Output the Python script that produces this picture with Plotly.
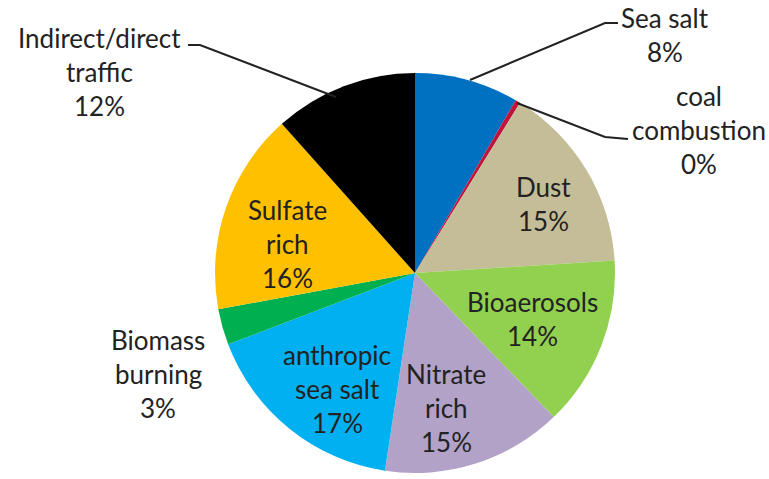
import plotly.graph_objects as go

# ---- data ----
categories = ["Sea salt", "coal combustion", "Dust", "Bioaerosols", "Nitrate rich",
              "anthropic sea salt", "Biomass burning", "Sulfate rich", "Indirect/direct traffic"]
label_lines = [["Sea salt"], ["coal", "combustion"], ["Dust"], ["Bioaerosols"], ["Nitrate", "rich"],
               ["anthropic", "sea salt"], ["Biomass", "burning"], ["Sulfate", "rich"],
               ["Indirect/direct", "traffic"]]
values = [8.4, 0.4, 15.2, 13.8, 14.6, 16.8, 2.9, 16.3, 11.6]
colors = ["#0070C0", "#C0143C", "#C4BD97", "#92D050", "#B3A2C7",
          "#00B0F0", "#00B050", "#FFC000", "#000000"]

W, H = 769, 479
cx, cy, r = 415, 273, 200

# label placement (pixel centre x, first line y) - style/position only
label_pos = [(665, 18), (699, 96), (543, 187), (532, 302), (446, 374),
             (337, 355), (158, 340), (287, 210), (99, 38)]
line_gap = 34
leaders = {
    0: [(470, 80), (605, 23), (618, 23)],
    1: [(517, 103), (605, 137), (628, 139)],
    8: [(188, 45), (200, 45), (336, 97)],
}

def px(x):
    return x / W

def py(y):
    return 1 - y / H

fig = go.Figure(go.Pie(
    labels=categories, values=values, sort=False, direction="clockwise", rotation=0,
    marker=dict(colors=colors, line=dict(width=0)),
    textinfo="none", hoverinfo="label+percent",
    domain=dict(x=[px(cx - r), px(cx + r)], y=[py(cy + r), py(cy - r)]),
    showlegend=False,
))

total = sum(values)
annotations = []
for i, lines in enumerate(label_lines):
    pct = f"{round(values[i] / total * 100)}%"
    all_lines = lines + [pct]
    x0, y0 = label_pos[i]
    for k, t in enumerate(all_lines):
        annotations.append(dict(
            x=px(x0), y=py(y0 + k * line_gap), xref="paper", yref="paper",
            text=t, showarrow=False, xanchor="center", yanchor="middle",
            font=dict(family="Lato", size=26, color="#222222"),
        ))

shapes = []
for i, pts in leaders.items():
    path = "M " + " L ".join(f"{px(x)},{py(y)}" for x, y in pts)
    shapes.append(dict(type="path", path=path, xref="paper", yref="paper",
                       line=dict(color="#222222", width=2)))

fig.update_layout(
    width=W, height=H, margin=dict(l=0, r=0, t=0, b=0),
    paper_bgcolor="white", plot_bgcolor="white",
    annotations=annotations, shapes=shapes,
)

fig.write_html("out.html")
